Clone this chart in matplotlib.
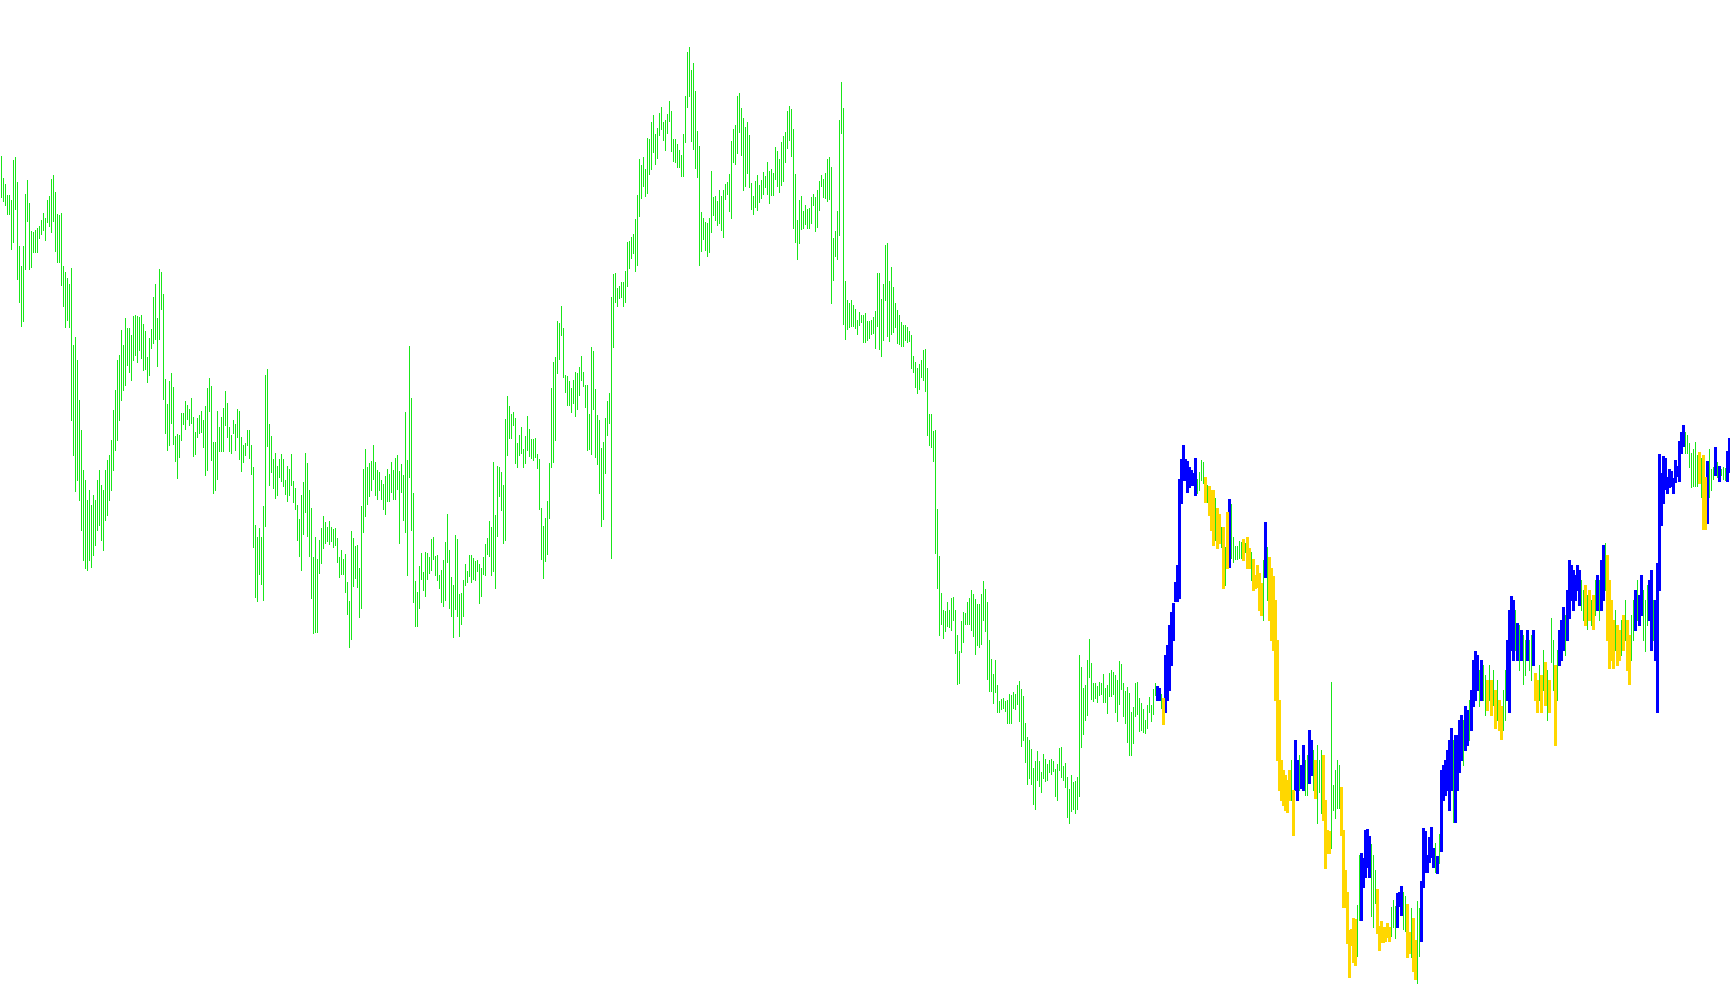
import matplotlib
matplotlib.use('Agg')
import matplotlib.pyplot as plt

# bar highs / lows (price points), one entry per bar, oldest first
highs = [
    # 0-35
    844, 822, 816, 805, 805, 800, 840, 843, 818, 754, 734, 754, 806, 820, 797, 769, 768, 770,
    772, 774, 780, 787, 782, 800, 804, 821, 825, 808, 786, 785, 787, 734, 728, 722, 716, 732,
    # 36-71
    655, 663, 640, 600, 570, 530, 520, 500, 510, 495, 505, 500, 520, 530, 515, 510, 530, 540,
    545, 560, 590, 610, 640, 645, 670, 655, 682,
    672, 672, 665, 684, 685, 684, 683, 685, 676,
    # 72-146
    669, 643, 662, 671, 703, 716, 682, 731, 728, 706, 621, 596, 619, 627, 613, 564, 566, 565, 587, 587,
    599, 595, 591, 602, 583, 568, 582, 585, 589, 580, 594, 612, 622, 614, 558, 558, 589, 573, 583, 592,
    609, 597, 573, 565, 580, 576, 591, 589, 563, 555, 557, 570, 570, 555, 533, 475, 463, 472, 463, 494,
    625, 631, 576, 564, 541, 547, 534, 541, 546, 541, 520, 534, 531, 546, 519,
    # 147-219
    512, 495, 481, 505, 518, 547, 537, 510, 492, 443, 463, 441, 460, 472, 484, 478, 473, 479, 473, 471,
    472, 462, 443, 450, 441, 446, 418, 399, 469, 462, 454, 455, 432, 494, 531, 551, 533, 537, 539, 555,
    538, 530, 528, 520, 516, 524, 531, 526, 538, 530, 542, 545, 529, 536, 525, 588, 540, 654, 602, 507,
    419, 408, 434, 447, 428, 448, 447, 443, 461, 463, 444, 445, 425,
    # 220-289
    430, 440, 458, 486, 450, 423, 415, 465, 461, 406, 407, 420, 436, 429, 445, 445, 442, 439, 440, 436,
    432, 443, 456, 462, 479, 473, 538, 485, 534, 533, 528, 515, 581, 604, 594, 586, 588, 582, 557, 565,
    573, 551, 564, 584, 571, 561, 561, 562, 546, 541, 492, 474, 482, 499, 537, 612, 638, 643, 679, 677,
    694, 672, 625, 624, 619, 612, 620, 628, 627, 633,
    # 290-361
    644, 628, 615, 615, 586, 653, 649, 611, 585, 580, 552, 558, 582, 599, 607, 703, 726, 727, 712, 714,
    718, 718, 729, 758, 759, 763, 766, 781, 805, 841, 835, 843, 831, 862, 861, 878, 885, 866, 872, 887,
    893, 878, 880, 886, 899, 889, 861, 861, 856, 850, 845, 866, 904, 948, 953, 930, 937, 909, 869, 854,
    788, 782, 778, 777, 782, 829, 803, 804, 799, 810, 804, 810,
    # 362-434
    816, 818, 826, 859, 871, 875, 904, 907, 892, 882, 873, 878, 865, 817, 804, 819, 825, 815, 820, 828,
    824, 838, 829, 831, 827, 853, 849, 841, 858, 864, 868, 889, 894, 891, 871, 826, 780, 800, 804, 789,
    795, 791, 792, 803, 806, 803, 810, 819, 825, 821, 827, 841, 843, 833, 762, 769, 789, 880, 918, 892,
    719, 700, 697, 700, 695, 691, 680, 688, 685, 685, 687, 679, 679,
    # 435-509
    680, 683, 689, 727, 727, 701, 716, 755, 757, 719, 733, 713, 697, 690, 685, 678, 675, 675, 673, 669,
    665, 644, 638, 632, 636, 640, 650, 651, 632, 586, 586, 569, 570, 491, 444, 407, 390, 389, 398, 390,
    402, 403, 390, 365, 349, 379, 388, 387, 398, 402, 410, 406, 401, 396, 396, 406, 419, 411, 398, 360,
    341, 326, 340, 315, 299, 301, 302, 299, 300, 306, 305, 308, 306, 315, 319,
    # 510-581
    311, 304, 277, 263, 260, 251, 232, 239, 249, 239, 228, 246, 241, 236, 240, 241, 239, 231, 236, 252,
    253, 234, 237, 223, 211, 225, 218, 219, 223, 345, 333, 312, 315, 340, 361, 337, 317, 317, 314, 318,
    317, 326, 312, 315, 327, 330, 328, 325, 320, 339, 336, 317, 309, 313, 307, 288, 293, 317, 318, 302,
    297, 291, 280, 295, 303, 295, 311, 317, 314, 312, 306, 302,
    # 582-636
    345, 355, 375, 388, 397, 418, 435, 521, 541, 555, 541, 539, 533, 530, 527, 542, 521, 528, 540, 538,
    523, 515, 514, 510, 510, 502, 492, 486, 473, 473, 453, 488, 501, 496, 463, 454, 454, 459, 458, 461,
    457, 463, 452, 448, 441, 425, 435, 427, 417, 440, 478, 453, 443, 432, 424,
    # 637-669
    400, 360, 300, 240, 230, 225, 220, 230, 240, 210, 260, 240, 245, 235, 255, 240, 245, 270, 260, 250,
    240, 255, 240, 250, 245, 200, 170, 169, 318, 215, 230, 240, 235,
    # 670-720
    213, 170, 130, 108, 70, 71, 82, 81, 95, 145, 147, 142, 170, 171, 164, 156, 145, 130, 111, 74,
    79, 73, 73, 77, 73, 93, 100, 94, 107, 108, 114, 108, 104, 96, 68, 92, 82, 60, 99, 92,
    119, 172, 169, 145, 163, 173, 152, 157, 144, 166, 230,
    # 721-798
    235, 240, 250, 260, 272, 260, 265, 265, 280, 285, 280, 294, 290, 300, 310, 340, 349, 345, 330, 340,
    335, 325, 320, 335, 320, 330, 310, 320, 300, 294, 310, 330, 360, 390, 404, 400, 390, 377, 375, 370,
    365, 360, 370, 360, 365, 370, 327, 320, 335, 325, 350, 338, 330, 320, 382, 360, 335, 350, 370, 380,
    393, 385, 410, 440, 435, 430, 425, 435, 430, 420, 410, 415, 405, 410, 400, 405, 420, 425,
    # 799-829
    420, 440, 455, 457, 445, 420, 400, 380, 390, 375, 370, 380, 385, 400, 380, 365, 385, 400, 410, 420,
    405, 425, 410, 400, 415, 420, 430, 400, 400, 437, 546,
    # 830-864
    527, 544, 542, 523, 531, 529, 522, 540, 534, 559, 568, 575, 568, 565, 557, 547, 551, 558, 545, 548,
    542, 545, 523, 539, 551, 531, 533, 553, 538, 534, 531, 533, 532, 549, 562,
]

lows = [
    # 0-35
    803, 799, 795, 786, 786, 751, 758, 791, 721, 698, 674, 679, 731, 779, 731, 733, 748, 748,
    748, 762, 766, 770, 760, 778, 774, 768, 779, 749, 738, 738, 715, 694, 673, 680, 673, 580,
    # 36-71
    545, 509, 520, 500, 470, 440, 432, 430, 440, 433, 445, 455, 470, 475, 460, 450, 480, 485,
    500, 510, 530, 550, 560, 580, 600, 610, 615,
    635, 628, 620, 640, 645, 638, 650, 642, 630,
    # 72-146
    631, 618, 625, 652, 657, 661, 634, 661, 691, 601, 567, 550, 555, 577, 556, 539, 522, 543, 560, 576,
    571, 581, 575, 577, 544, 546, 563, 567, 568, 553, 525, 530, 589, 540, 507, 510, 521, 549, 549, 549,
    575, 563, 549, 547, 567, 550, 563, 541, 529, 538, 545, 555, 542, 526, 453, 403, 399, 426, 416, 400,
    474, 554, 515, 528, 512, 502, 505, 523, 519, 514, 506, 499, 505, 515, 498,
    # 147-219
    491, 460, 444, 430, 466, 488, 464, 444, 402, 367, 368, 368, 427, 437, 452, 457, 459, 456, 459, 453,
    455, 438, 423, 426, 426, 408, 386, 353, 361, 414, 422, 413, 383, 392, 468, 484, 496, 504, 510, 521,
    505, 501, 510, 501, 491, 486, 499, 499, 508, 501, 501, 511, 457, 508, 480, 468, 425, 523, 470, 398,
    374, 374, 392, 421, 410, 404, 421, 427, 430, 441, 425, 420, 412,
    # 220-289
    398, 394, 400, 438, 392, 384, 363, 391, 384, 364, 376, 384, 415, 418, 424, 418, 421, 420, 429, 397,
    404, 426, 425, 446, 444, 425, 429, 412, 464, 504, 490, 457, 460, 545, 562, 562, 575, 537, 533, 545,
    547, 533, 537, 550, 544, 542, 540, 543, 532, 491, 441, 422, 439, 446, 482, 533, 538, 560, 627, 641,
    665, 623, 608, 595, 595, 588, 597, 584, 591, 605,
    # 290-361
    620, 614, 593, 550, 551, 546, 591, 543, 536, 507, 474, 481, 527, 565, 577, 442, 653, 698, 694, 702,
    703, 694, 698, 714, 732, 742, 747, 729, 735, 784, 802, 814, 804, 807, 826, 831, 848, 836, 842, 865,
    871, 860, 850, 867, 879, 849, 839, 838, 833, 833, 824, 824, 858, 893, 904, 859, 851, 832, 823, 735,
    749, 761, 750, 744, 748, 768, 785, 780, 775, 777, 770, 763,
    # 362-434
    801, 806, 789, 782, 838, 836, 847, 868, 845, 810, 814, 827, 813, 791, 786, 793, 790, 798, 802, 806,
    813, 806, 797, 805, 805, 821, 814, 808, 815, 819, 838, 852, 860, 844, 772, 758, 741, 757, 771, 772,
    776, 772, 772, 777, 795, 769, 773, 790, 814, 803, 802, 799, 801, 697, 720, 744, 741, 765, 867, 676,
    661, 671, 673, 674, 674, 672, 666, 675, 678, 658, 658, 660, 662,
    # 435-509
    666, 667, 652, 674, 651, 644, 660, 700, 664, 659, 666, 668, 673, 657, 656, 654, 654, 660, 658, 659,
    632, 628, 613, 607, 611, 623, 620, 609, 565, 555, 553, 539, 447, 412, 365, 376, 362, 369, 374, 373,
    370, 380, 347, 316, 317, 348, 358, 376, 376, 376, 370, 364, 346, 355, 353, 356, 380, 369, 321, 309,
    309, 297, 308, 288, 288, 291, 292, 289, 277, 277, 277, 292, 291, 296, 279,
    # 510-581
    254, 260, 238, 216, 222, 216, 196, 191, 220, 214, 208, 222, 219, 220, 228, 226, 229, 204, 200, 230,
    223, 220, 213, 183, 177, 189, 191, 187, 191, 204, 253, 266, 280, 285, 323, 301, 299, 302, 298, 305,
    306, 298, 298, 287, 304, 304, 306, 288, 279, 296, 311, 284, 277, 258, 245, 245, 257, 284, 286, 269,
    270, 268, 267, 272, 288, 279, 286, 305, 300, 300, 292, 276,
    # 582-636
    288, 300, 310, 335, 360, 399, 399, 402, 497, 520, 520, 508, 513, 515, 515, 505, 507, 510, 520, 517,
    498, 498, 485, 470, 455, 460, 452, 457, 453, 412, 415, 432, 433, 442, 438, 441, 441, 442, 442, 440,
    448, 432, 432, 420, 410, 412, 413, 390, 385, 380, 423, 400, 380, 360, 350,
    # 637-669
    300, 240, 210, 200, 195, 190, 188, 200, 200, 165, 210, 200, 210, 212, 210, 205, 205, 217, 225, 210,
    202, 177, 208, 187, 180, 132, 147, 147, 152, 190, 182, 192, 192,
    # 670-720
    165, 93, 93, 57, 23, 55, 38, 35, 44, 80, 80, 113, 123, 133, 123, 84, 73, 97, 67, 50,
    58, 58, 59, 63, 59, 64, 73, 62, 73, 94, 85, 71, 69, 43, 47, 43, 29, 21, 17, 44,
    59, 113, 128, 128, 138, 143, 133, 128, 127, 137, 149,
    # 721-798
    200, 205, 210, 190, 210, 178, 178, 210, 228, 240, 235, 250, 255, 260, 270, 294, 300, 310, 294, 300,
    300, 285, 290, 300, 285, 295, 272, 280, 270, 261, 270, 280, 300, 288, 350, 340, 350, 340, 330, 340,
    316, 325, 340, 330, 320, 335, 300, 288, 300, 288, 310, 295, 280, 288, 338, 310, 255, 300, 335, 340,
    350, 345, 360, 382, 400, 390, 400, 410, 395, 390, 380, 375, 371, 380, 375, 371, 385, 390,
    # 799-829
    380, 390, 400, 410, 360, 332, 340, 332, 350, 335, 340, 345, 350, 360, 330, 316, 340, 360, 370, 380,
    375, 385, 360, 349, 375, 380, 350, 360, 340, 288, 410,
    # 830-864
    475, 497, 511, 507, 513, 514, 507, 518, 524, 519, 547, 554, 547, 547, 533, 513, 514, 514, 514, 517,
    503, 471, 471, 477, 503, 510, 521, 525, 523, 519, 525, 521, 520, 519, 528,
]

# bar state: g = neutral (thin), b = up (thick blue), y = down (thick gold)
state = ('g' * 577
         + 'gbbgy' + 'bbbbbbbbbbbbbbbb' + 'gggg'
         + 'ygyyygyygygybggggggygyygyyyyygbgyyy'
         + 'yyyyyyyygybbgbbggbbgygggyyyyggggg'
         + 'yyyyyyyyggbbbbbgggyyyyyyygggbbbggyygyyggbbbbbbbgbgb'
         + 'bbbbbgbbbbgbbgbbbbgbggygygygyyggbbbbgbgbggbggbyygygygyggygbbbgbbbbbbbggygygygb'
         + 'gbbgyyyygyygygyyggbgbbgggbbgbbb'
         + 'bbbbbbbbbbbbgggggggygyybgggbgbgggbb')

n = min(len(highs), len(lows), len(state))
print(len(highs), len(lows), len(state))

colours = {'g': '#19E619', 'b': '#0000FF', 'y': '#FFD700'}
widths = {'g': 0.72, 'b': 2.16, 'y': 2.16}

fig = plt.figure(figsize=(17.3, 10.05), dpi=100)
ax = fig.add_axes([0, 0, 1, 1])
ax.set_axis_off()

for key in ['g', 'b', 'y']:
    idx = [i for i in range(n) if state[i] == key]
    ax.vlines(idx, [lows[i] for i in idx], [highs[i] for i in idx],
              colors=colours[key], linewidth=widths[key], antialiased=False)

ax.set_xlim(-0.667, 864.333)
ax.set_ylim(-5, 1000)

fig.savefig('out.png', dpi=100, facecolor='white')
